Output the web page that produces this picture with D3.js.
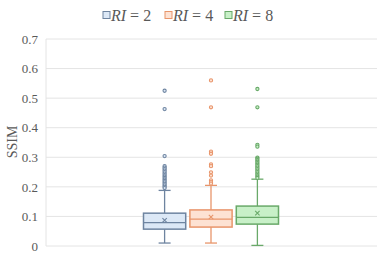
<!DOCTYPE html>
<html>
<head>
<meta charset="utf-8">
<script src="https://cdnjs.cloudflare.com/ajax/libs/d3/7.8.5/d3.min.js"></script>
<style>
  body { margin: 0; background: #fff; }
  svg text { font-family: "Liberation Serif", "DejaVu Serif", serif !important; }
</style>
</head>
<body>
<svg width="382" height="259"></svg>
<script>
var svg = d3.select('svg');

// data
var seriesNames = ["2", "4", "8"];
var q1 = [0.057, 0.064, 0.074];
var median = [0.079, 0.091, 0.097];
var q3 = [0.111, 0.122, 0.135];
var whiskLo = [0.010, 0.010, 0.002];
var whiskHi = [0.188, 0.205, 0.226];
var means = [0.087, 0.098, 0.111];
var outliers = [
  [0.525, 0.463, 0.304, 0.270, 0.265, 0.260, 0.255, 0.250, 0.245, 0.240, 0.235, 0.230, 0.225, 0.220, 0.215, 0.210, 0.205, 0.200, 0.196],
  [0.560, 0.469, 0.319, 0.312, 0.276, 0.270, 0.249, 0.238, 0.222, 0.216, 0.211],
  [0.531, 0.469, 0.342, 0.336, 0.299, 0.295, 0.290, 0.285, 0.280, 0.275, 0.270, 0.265, 0.260, 0.255, 0.250, 0.245, 0.240, 0.235, 0.230]
];
var yTicks = [0, 0.1, 0.2, 0.3, 0.4, 0.5, 0.6, 0.7];

var fills = ["#dce8f6", "#fde2d3", "#c8f0c8"];
var strokes = ["#6e84a0", "#e8956b", "#69a969"];

var plotLeft = 46, plotRight = 377, plotTop = 39, plotBottom = 246;

var y = d3.scaleLinear().domain([0, 0.7]).range([plotBottom, plotTop]);
var x = d3.scaleBand().domain(seriesNames).range([143.5, 278.5]).paddingInner(0.09);

// gridlines
svg.append("g").selectAll("line").data(yTicks).join("line")
  .attr("x1", plotLeft).attr("x2", plotRight)
  .attr("y1", function(d) { return y(d); }).attr("y2", function(d) { return y(d); })
  .style("stroke", "#e4e4e4").style("stroke-width", 1);
svg.append("line")
  .attr("x1", plotLeft).attr("x2", plotLeft).attr("y1", plotTop).attr("y2", plotBottom)
  .style("stroke", "#e4e4e4");

// y axis labels
var yAxis = d3.axisLeft(y).tickValues(yTicks).tickSize(0).tickPadding(8)
  .tickFormat(function(d) { return d === 0 ? "0" : d3.format(".1f")(d); });
var ga = svg.append("g").attr("transform", "translate(" + plotLeft + ",0)").call(yAxis)
  .attr("font-family", null).attr("font-size", null);
ga.select(".domain").remove();
ga.selectAll("text").style("font-size", "13px").style("fill", "#595959");

svg.append("text")
  .attr("transform", "translate(17," + 142 + ") rotate(-90)")
  .attr("text-anchor", "middle")
  .style("font-size", "14px").style("fill", "#595959")
  .text("SSIM");

// boxes
seriesNames.forEach(function(name, i) {
  var g = svg.append("g");
  var x0 = x(name), w = x.bandwidth(), cx = x0 + w / 2;
  var cap = 6;
  // whiskers
  g.append("line").attr("x1", cx).attr("x2", cx).attr("y1", y(q3[i])).attr("y2", y(whiskHi[i]))
    .style("stroke", strokes[i]).style("stroke-width", 1.3);
  g.append("line").attr("x1", cx).attr("x2", cx).attr("y1", y(q1[i])).attr("y2", y(whiskLo[i]))
    .style("stroke", strokes[i]).style("stroke-width", 1.3);
  g.append("line").attr("x1", cx - cap).attr("x2", cx + cap).attr("y1", y(whiskHi[i])).attr("y2", y(whiskHi[i]))
    .style("stroke", strokes[i]).style("stroke-width", 1.3);
  g.append("line").attr("x1", cx - cap).attr("x2", cx + cap).attr("y1", y(whiskLo[i])).attr("y2", y(whiskLo[i]))
    .style("stroke", strokes[i]).style("stroke-width", 1.3);
  // box
  g.append("rect").attr("x", x0).attr("y", y(q3[i]))
    .attr("width", w).attr("height", y(q1[i]) - y(q3[i]))
    .style("fill", fills[i]).style("stroke", strokes[i]).style("stroke-width", 1.5);
  g.append("line").attr("x1", x0).attr("x2", x0 + w).attr("y1", y(median[i])).attr("y2", y(median[i]))
    .style("stroke", strokes[i]).style("stroke-width", 1.3);
  // mean marker
  var my = y(means[i]), s = 2.2;
  g.append("path")
    .attr("d", "M" + (cx - s) + "," + (my - s) + "L" + (cx + s) + "," + (my + s) +
               "M" + (cx - s) + "," + (my + s) + "L" + (cx + s) + "," + (my - s))
    .style("stroke", strokes[i]).style("stroke-width", 1.1);
  // outliers
  g.selectAll("circle").data(outliers[i]).join("circle")
    .attr("cx", cx).attr("cy", function(d) { return y(d); }).attr("r", 1.6)
    .style("fill", fills[i]).style("stroke", strokes[i]).style("stroke-width", 1.1);
});

// legend
var legX = [103, 165, 225];
seriesNames.forEach(function(name, i) {
  var g = svg.append("g").attr("transform", "translate(" + legX[i] + ",15)");
  g.append("rect").attr("x", 0).attr("y", -3.5).attr("width", 7).attr("height", 7)
    .style("fill", fills[i]).style("stroke", strokes[i]).style("stroke-width", 1);
  var t = g.append("text").attr("x", 8).attr("y", 5.5)
    .style("font-size", "16px").style("fill", "#595959");
  t.append("tspan").style("font-style", "italic").text("RI");
  t.append("tspan").text(" = " + name);
});
</script>
</body>
</html>
